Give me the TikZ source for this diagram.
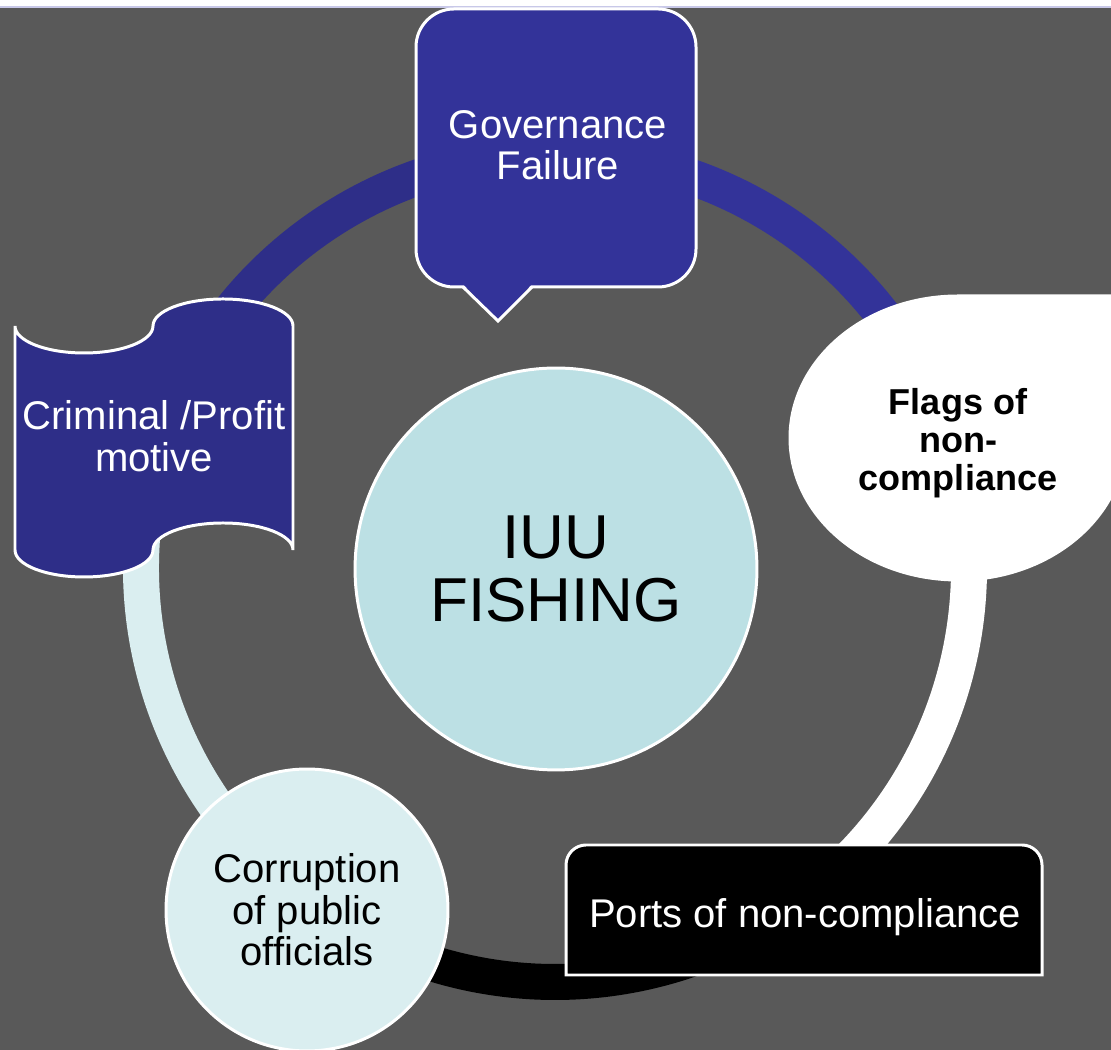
\documentclass[tikz,border=0pt]{standalone}
\usepackage{fontspec}
\setmainfont{Liberation Sans}
\usetikzlibrary{calc, positioning}
\definecolor{slidegray}{HTML}{595959}
\definecolor{govblue}{HTML}{333399}
\definecolor{crimblue}{HTML}{2E2E88}
\definecolor{iuucyan}{HTML}{BCE0E4}
\definecolor{palecyan}{HTML}{DAEEF0}
\definecolor{topline}{HTML}{C8C8E8}

\begin{document}
\begin{tikzpicture}[
    x=0.02cm, y=0.02cm,
    ringarc/.style={draw=#1, line width=0.72cm},
    shapeline/.style={draw=white, line width=1.7pt, fill=#1},
    txt/.style={align=center, text=#1, inner sep=0pt, font=\fontsize{22.8}{23.6}\selectfont}
]

\clip (0,0) rectangle (1111,1050);

% Background
\fill[slidegray] (0,0) rectangle (1111,1050);
\fill[white] (0,1042) rectangle (1111,1050);
\draw[topline, line width=1.2pt] (0,1043) -- (1111,1043);

% Ring
\coordinate (ctr) at (555,482);
\foreach \n/\a in {rgov/90, rflag/18, rport/-54, rcorr/-126, rcrim/162} {
    \coordinate (\n) at ($(ctr)+(\a:414)$);
}
\foreach \n/\a/\b/\c in {rgov/90/18/govblue, rflag/18/-54/white, rport/-54/-126/black, rcorr/-126/-198/palecyan, rcrim/162/90/crimblue} {
    \draw[ringarc=\c] (\n) arc[start angle=\a, end angle=\b, radius=414];
}

% Centre
\node[circle, shapeline=iuucyan, minimum size=8.04cm, txt=black, font=\fontsize{35.3}{36}\selectfont] (iuu) at (556,481) {IUU\\FISHING};

% Governance Failure (callout)
\draw[shapeline=govblue, rounded corners=7.6mm] (416,763) rectangle (696,1041);
\fill[govblue] (463,766) -- (498,729) -- (532,766) -- cycle;
\draw[white, line width=1.7pt, line join=miter] (463,763) -- (498,729) -- (532,763);
\node[txt=white] (gov) at (558,905) {Governance\\Failure};

% Flags of non-compliance (teardrop)
\draw[shapeline=white] (958,754) -- (1126,754) -- (1126,612)
    arc[start angle=0, end angle=-270, x radius=168, y radius=142] -- cycle;
\node[txt=black, font=\bfseries\fontsize{20.5}{21.6}\selectfont] (flag) at (958,607) {Flags of\\non-\\compliance};

% Ports of non-compliance
\draw[shapeline=black] (566,75) -- (566,185) arc[start angle=180, end angle=90, radius=20]
    -- (1022,205) arc[start angle=90, end angle=0, radius=20] -- (1042,75) -- cycle;
\node[txt=white] (port) at (805,133) {Ports of non-compliance};

% Corruption of public officials
\node[circle, shapeline=palecyan, minimum size=5.64cm, txt=black] (corr) at (307,140) {Corruption\\of public\\officials};

% Criminal /Profit motive (wave)
\draw[shapeline=crimblue] (15,724)
    arc[start angle=180, end angle=360, x radius=69, y radius=27]
    arc[start angle=180, end angle=0, x radius=70, y radius=27]
    -- (293,500)
    arc[start angle=0, end angle=180, x radius=70, y radius=27]
    arc[start angle=0, end angle=-180, x radius=69, y radius=27]
    -- cycle;
\node[txt=white] (crim) at (154,614) {Criminal /Profit\\motive};

\end{tikzpicture}
\end{document}
